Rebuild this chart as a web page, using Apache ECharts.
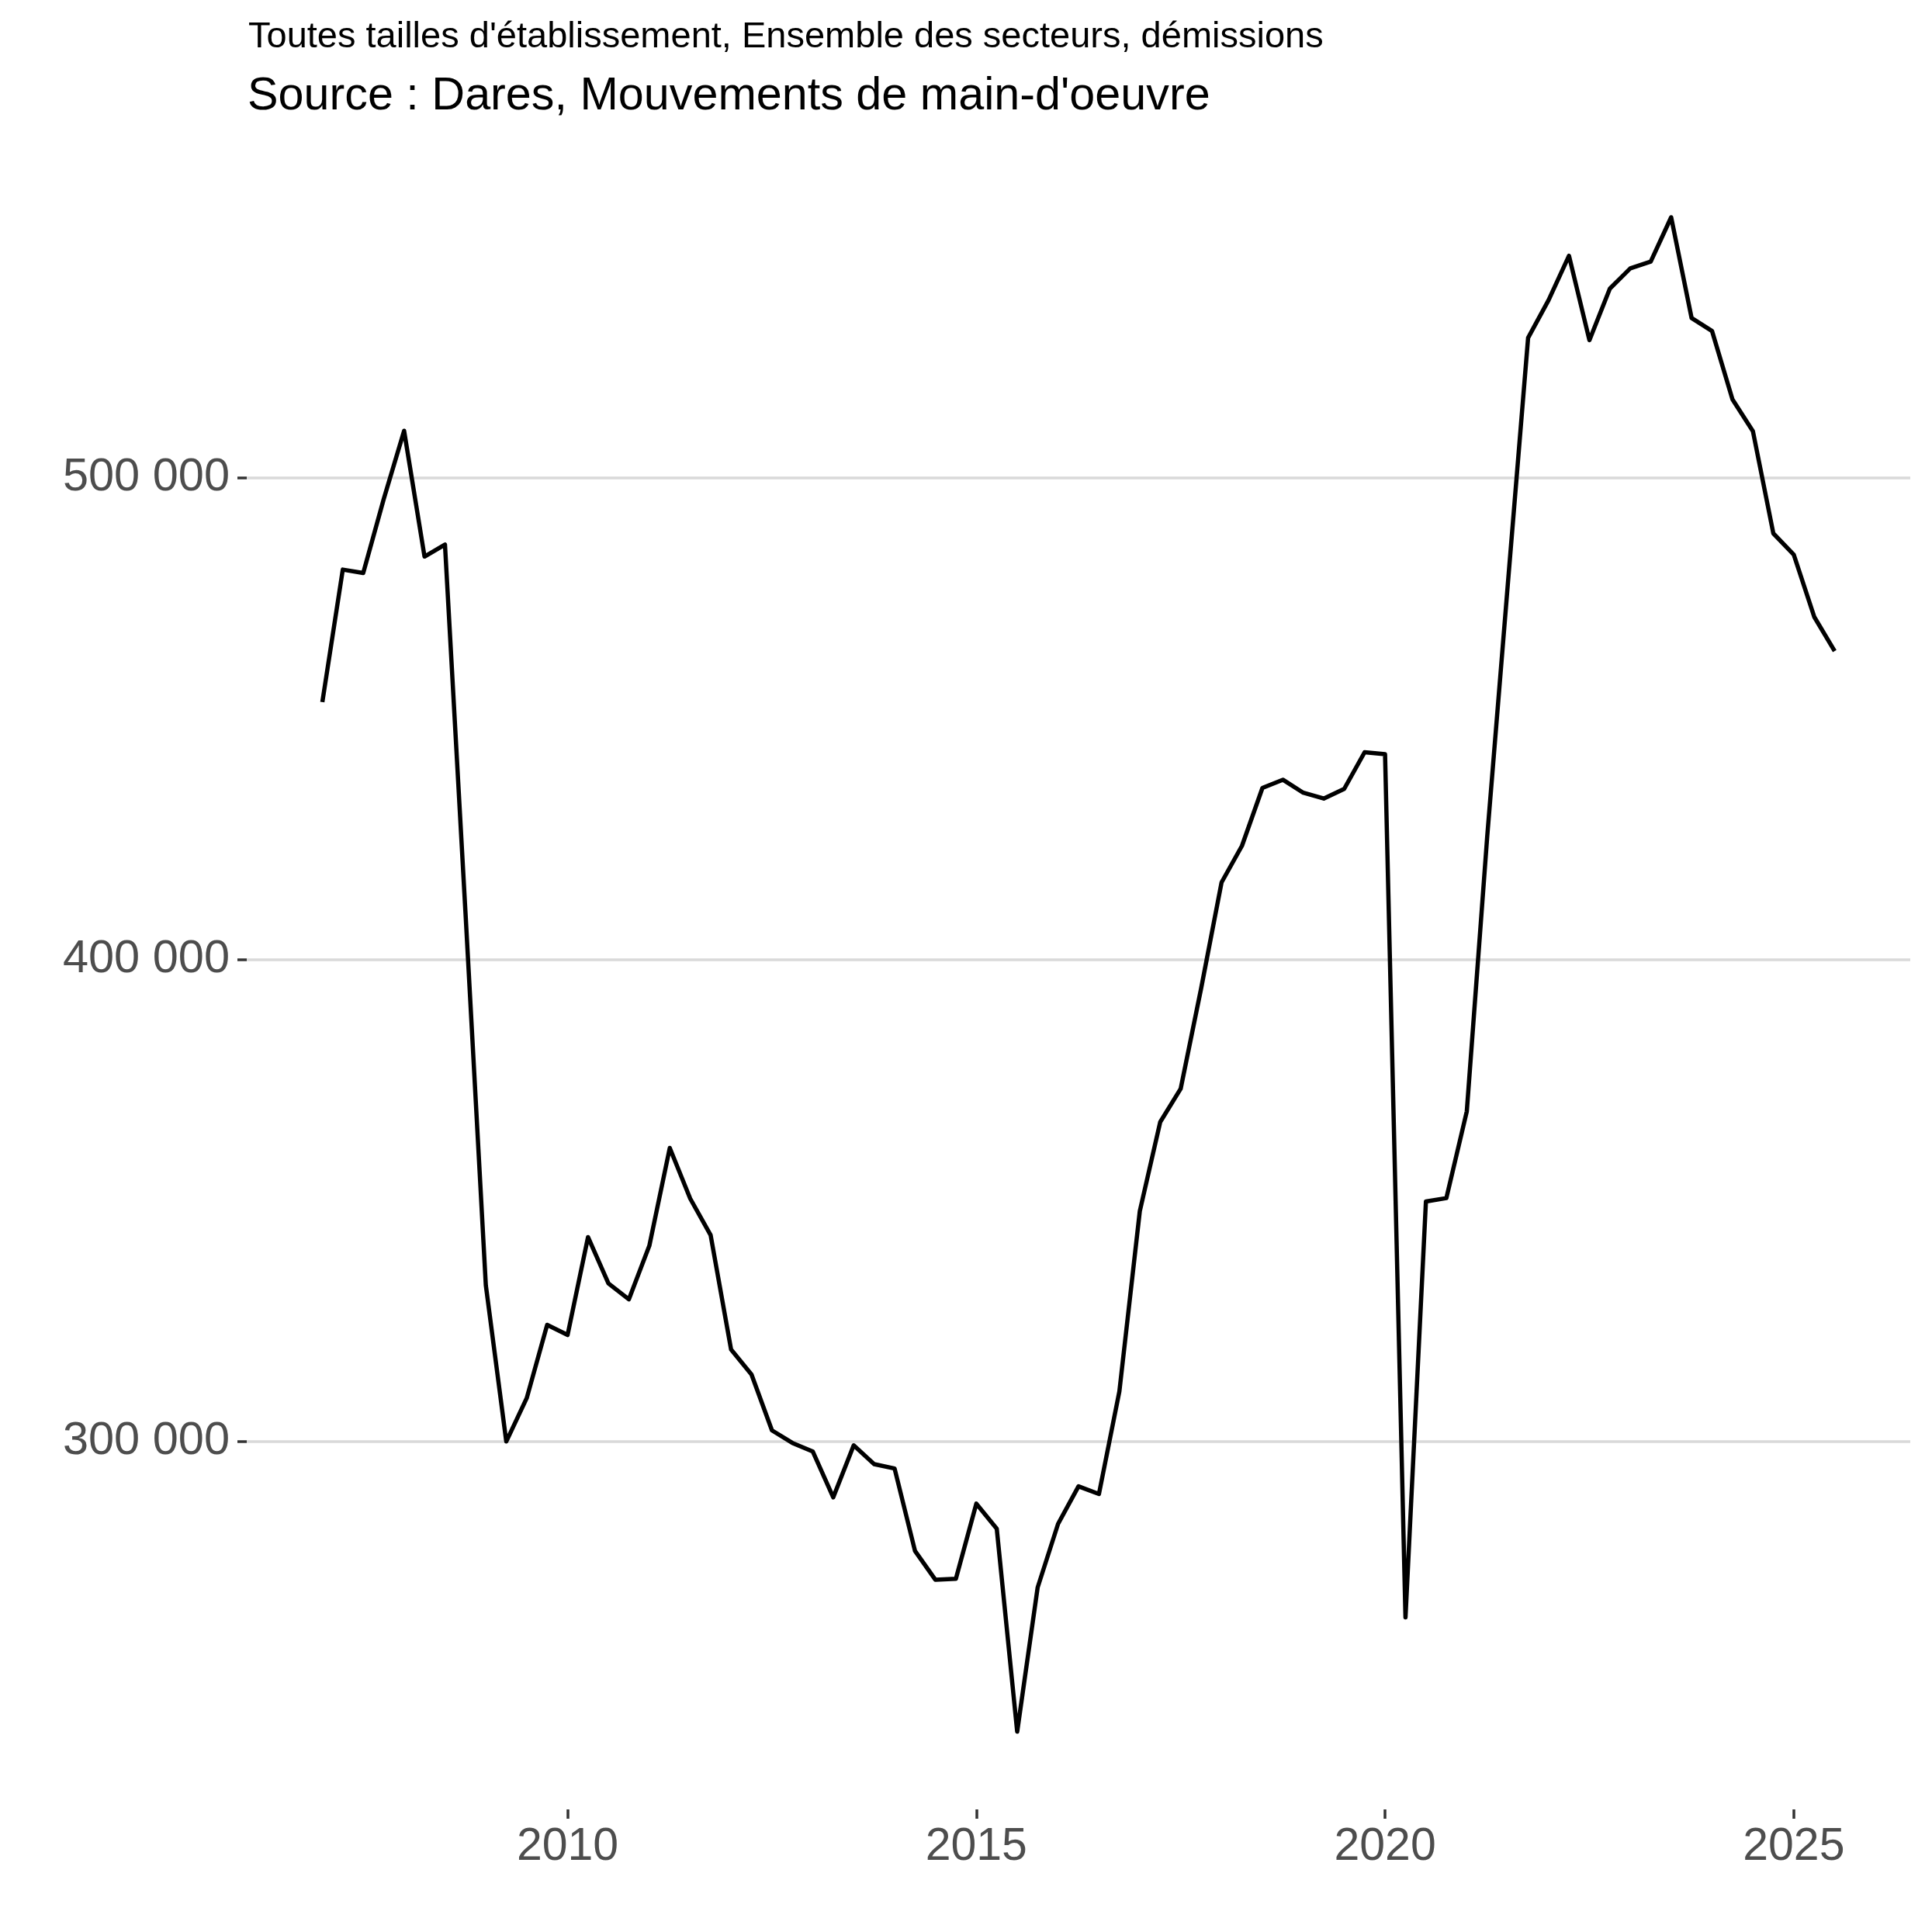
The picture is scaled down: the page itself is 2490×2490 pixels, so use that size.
<!DOCTYPE html>
<html>
<head>
<meta charset="utf-8">
<script src="https://cdn.jsdelivr.net/npm/echarts@6/dist/echarts.min.js"></script>
<style>
  html, body { margin: 0; padding: 0; background: #ffffff; }
  #chart { width: 2490px; height: 2490px; }
</style>
</head>
<body>
<div id="chart"></div>
<script>
// Quarters (T1..T4) from 2007-T1 to 2025-T3
const quarters = [
  '2007-T1','2007-T2','2007-T3','2007-T4','2008-T1','2008-T2','2008-T3','2008-T4',
  '2009-T1','2009-T2','2009-T3','2009-T4','2010-T1','2010-T2','2010-T3','2010-T4',
  '2011-T1','2011-T2','2011-T3','2011-T4','2012-T1','2012-T2','2012-T3','2012-T4',
  '2013-T1','2013-T2','2013-T3','2013-T4','2014-T1','2014-T2','2014-T3','2014-T4',
  '2015-T1','2015-T2','2015-T3','2015-T4','2016-T1','2016-T2','2016-T3','2016-T4',
  '2017-T1','2017-T2','2017-T3','2017-T4','2018-T1','2018-T2','2018-T3','2018-T4',
  '2019-T1','2019-T2','2019-T3','2019-T4','2020-T1','2020-T2','2020-T3','2020-T4',
  '2021-T1','2021-T2','2021-T3','2021-T4','2022-T1','2022-T2','2022-T3','2022-T4',
  '2023-T1','2023-T2','2023-T3','2023-T4','2024-T1','2024-T2','2024-T3','2024-T4',
  '2025-T1','2025-T2','2025-T3'
];

// Démissions (toutes tailles d'établissement, ensemble des secteurs)
const demissions = [
  453400, 480900, 480200, 495500, 509700, 483600, 486100, 410000,
  332400, 300000, 309000, 324200, 322100, 342400, 332800, 329500,
  340600, 360900, 350400, 342800, 319100, 313900, 302300, 299700,
  297900, 288400, 299200, 295300, 294400, 277300, 271300, 271500,
  287100, 281900, 239800, 269700, 282900, 290700, 289100, 310400,
  347800, 366300, 373200, 394000, 416000, 423600, 435600, 437300,
  434600, 433400, 435400, 443000, 442600, 263500, 349800, 350500,
  368500, 425600, 477500, 529000, 536800, 546000, 528500, 539200,
  543400, 544800, 554000, 533100, 530400, 516200, 509600, 488400,
  484000, 471100, 464000
];

const xTickValues = [2010, 2015, 2020, 2025];
const xTickLabels = ['2010', '2015', '2020', '2025'];
const yTickValues = [300000, 400000, 500000];
const yTickLabels = ['300 000', '400 000', '500 000'];

const subtitleText = "Toutes tailles d'établissement, Ensemble des secteurs, démissions";
const captionText = "Source : Dares, Mouvements de main-d'oeuvre";

function quarterToYear(q) {
  const parts = q.split('-T');
  return Number(parts[0]) + (Number(parts[1]) - 1) / 4;
}

const seriesData = quarters.map((q, i) => [quarterToYear(q), demissions[i]]);

const FONT = '"Liberation Sans", Arial, Helvetica, sans-serif';
const chart = echarts.init(document.getElementById('chart'), null, { renderer: 'canvas' });

chart.setOption({
  animation: false,
  backgroundColor: '#ffffff',
  title: [
    {
      text: subtitleText,
      left: 320, top: 25, padding: 0,
      textStyle: { fontFamily: FONT, fontSize: 47, fontWeight: 'normal', color: '#000000' }
    },
    {
      text: captionText,
      left: 319, top: 95, padding: 0,
      textStyle: { fontFamily: FONT, fontSize: 59.3, fontWeight: 'normal', color: '#000000' }
    }
  ],
  grid: { left: 318, right: 28, top: 182, bottom: 158, containLabel: false },
  xAxis: {
    type: 'value',
    min: 2006.075,
    max: 2026.425,
    axisLine: { show: false },
    axisTick: {
      show: true, customValues: xTickValues, length: 12, inside: false,
      lineStyle: { color: '#333333', width: 3.5 }
    },
    axisLabel: {
      show: true, customValues: xTickValues, margin: 19,
      color: '#4D4D4D', fontFamily: FONT, fontSize: 59,
      formatter: (v) => xTickLabels[xTickValues.indexOf(v)] || ''
    },
    splitLine: { show: false }
  },
  yAxis: {
    type: 'value',
    min: 223660,
    max: 569780,
    axisLine: { show: false },
    axisTick: {
      show: true, customValues: yTickValues, length: 12, inside: false,
      lineStyle: { color: '#333333', width: 3.5 }
    },
    axisLabel: {
      show: true, customValues: yTickValues, margin: 22,
      color: '#4D4D4D', fontFamily: FONT, fontSize: 59.5,
      formatter: (v) => yTickLabels[yTickValues.indexOf(v)] || ''
    },
    splitLine: { show: true, lineStyle: { color: '#d9d9d9', width: 3.5 } }
  },
  series: [{
    type: 'line',
    data: seriesData,
    showSymbol: false,
    symbol: 'none',
    lineStyle: { color: '#000000', width: 5.5, join: 'round' },
    clip: false
  }]
});
</script>
</body>
</html>
